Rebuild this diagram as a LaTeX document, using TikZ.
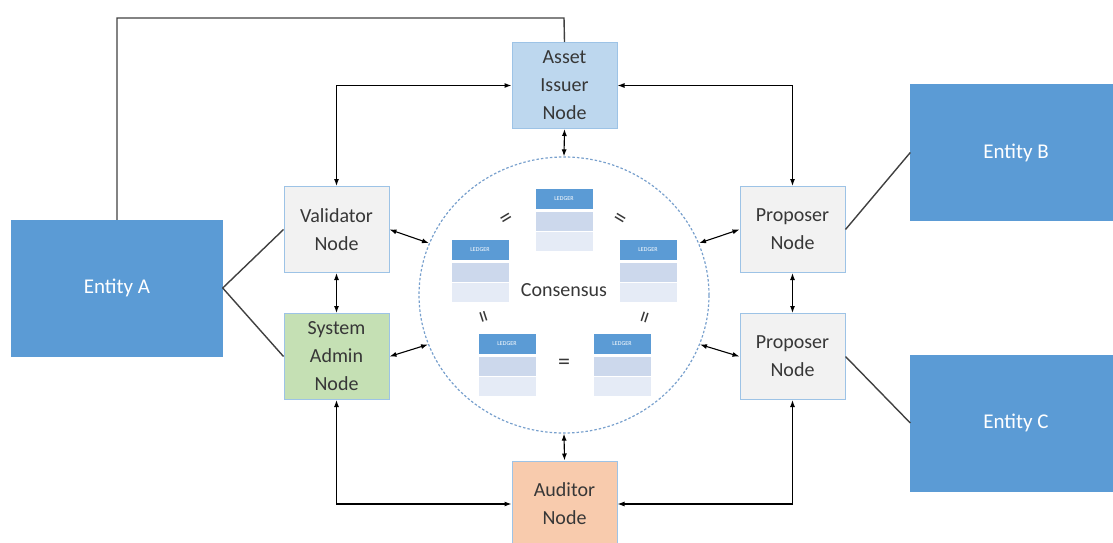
\documentclass[tikz,border=0pt]{standalone}
\usepackage{fontspec}
\setmainfont{Carlito}
\usetikzlibrary{shapes.geometric,arrows.meta,positioning}
\definecolor{entblue}{RGB}{91,155,213}
\definecolor{nodegray}{RGB}{242,242,242}
\definecolor{nodeedge}{RGB}{157,195,230}
\definecolor{assetblue}{RGB}{189,215,238}
\definecolor{admingreen}{RGB}{197,224,180}
\definecolor{auditorange}{RGB}{248,203,173}
\definecolor{rowA}{RGB}{204,216,236}
\definecolor{rowB}{RGB}{229,235,246}
\definecolor{circedge}{RGB}{120,160,205}
\definecolor{txtgray}{RGB}{55,55,55}
\begin{document}
\begin{tikzpicture}[x=1pt, y=-1pt, >={Latex[length=7pt,width=5pt]},
  every node/.style={font=\fontsize{20}{28}\selectfont, text=txtgray},
  entity/.style={draw=entblue, fill=entblue, rectangle, minimum width=211, minimum height=136, text=white, font=\fontsize{21}{28}\selectfont},
  peer/.style={draw=nodeedge, line width=1pt, fill=nodegray, rectangle, minimum width=105, minimum height=86, align=center, inner sep=0},
  ledgerhead/.style={fill=entblue, minimum width=57, minimum height=20, inner sep=0, text=white, font=\fontsize{6}{7}\selectfont},
  ledgerrow/.style={minimum width=57, minimum height=19, inner sep=0},
  eqsign/.style={font=\fontsize{24}{24}\selectfont, inner sep=0},
  link/.style={line width=1.1pt, black},
  tie/.style={line width=1.4pt, black!75}]
\useasboundingbox (0,0) rectangle (1113,543);
\clip (0,0) rectangle (1113,543);

% entities
\node[entity] (entA) at (117,288) {Entity A};
\node[entity] (entB) at (1016,152.5) {Entity B};
\node[entity] (entC) at (1016,423) {Entity C};

% peer nodes
\node[peer, fill=assetblue] (asset) at (564.5,85.5) {Asset\\Issuer\\Node};
\node[peer] (val) at (336.5,229.5) {Validator\\Node};
\node[peer, fill=admingreen, below=40pt of val] (sadm) {System\\Admin\\Node};
\node[peer] (prop1) at (792.5,229.5) {Proposer\\Node};
\node[peer, below=40pt of prop1] (prop2) {Proposer\\Node};
\node[peer, fill=auditorange] (aud) at (564.5,504) {Auditor\\Node};

% consensus ring with ledgers
\node[draw=circedge, line width=1.2pt, dash pattern=on 2.5pt off 2pt, ellipse, minimum width=290, minimum height=276, inner sep=0] (cons) at (564,295) {};
\node (constxt) at (564,290) {Consensus};
\foreach \nm/\lx/\ly in {lt/564/199, ll/480/250, lr/648/250, lbl/507/344, lbr/622/344} {
  \node[ledgerhead] (\nm) at (\lx,\ly) {LEDGER};
  \node[ledgerrow, fill=rowA, below=3pt of \nm] (\nm1) {};
  \node[ledgerrow, fill=rowB, below=0pt of \nm1] (\nm2) {};
}
\node[eqsign, rotate=31] (eq1) at (507,220) {=};
\node[eqsign, rotate=-31] (eq2) at (619,220) {=};
\node[eqsign, rotate=-72] (eq3) at (481,318) {=};
\node[eqsign, rotate=72] (eq4) at (647,318) {=};
\node[eqsign] (eq5) at (564,364) {=};

% entity ties
\coordinate (topbend) at (564,18);
\draw[tie] (entA.north) |- (topbend) -- (asset.north);
\draw[tie] (entA.east) -- (val.west);
\draw[tie] (entA.east) -- (sadm.west);
\draw[tie] (entB.west) -- (prop1.east);
\draw[tie] (entC.west) -- (prop2.east);

% links between nodes
\draw[link, <->] (val.north) |- (asset.west);
\draw[link, <->] (prop1.north) |- (asset.east);
\draw[link, <->] (sadm.south) |- (aud.west);
\draw[link, <->] (prop2.south) |- (aud.east);
\draw[link, <->] (val.south) -- (sadm.north);
\draw[link, <->] (prop1.south) -- (prop2.north);
\draw[link, <->] (asset.south) -- (cons.north);
\draw[link, <->] (aud.north) -- (cons.south);
\draw[link, <->] (val.east) -- (cons.159);
\draw[link, <->] (sadm.east) -- (cons.200);
\draw[link, <->] (prop1.west) -- (cons.21);
\draw[link, <->] (prop2.west) -- (cons.340);
\end{tikzpicture}
\end{document}
